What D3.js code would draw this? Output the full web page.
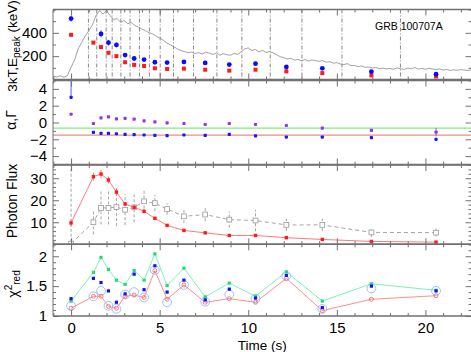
<!DOCTYPE html>
<html><head><meta charset="utf-8">
<script src="https://cdn.jsdelivr.net/npm/d3@7"></script>
<style>body{margin:0;background:#fff}text{font-family:"Liberation Sans",Arial,sans-serif}</style>
</head><body><svg id="c" width="471" height="352"></svg>
<script>
// ---- data ----
const times = [0, 1.26, 1.69, 2.11, 2.56, 3.05, 3.56, 4.12, 4.73, 5.42, 6.37, 7.57, 8.93, 10.41, 12.15, 14.18, 16.95, 20.6];
const binEdges = [0.98, 1.45, 1.98, 2.32, 2.81, 3.33, 3.86, 4.42, 5.03, 5.78, 6.91, 8.23, 9.64, 11.24, 13.03, 15.29, 18.59];
// panel 1 (keV)
const kT3 = [383, 316, 278, 229, 200, 148, 125, 116, 96, 90, 93, 84, 76, 84, 70, 55, 35, 26];
const ePeak = [522, null, 391, 316, 296, 209, 180, 171, 148, 145, 151, 142, 128, 136, 107, 96, 67, 46];
const ePeakErr = [26, 0, 30, 24, 20, 12, 10, 10, 8, 8, 8, 8, 8, 8, 8, 8, 8, 8];
// light curve (counts, arbitrary scale) from t=-1.0 s in 0.2 s bins
const lcStart = -1.0, lcStep = 0.2;
const lightCurve = [28, 22, 31, 19, 35,
  105, 168, 262, 318, 372, 418, 468, 545, 590, 562, 588, 548, 515, 521, 492,
  505, 478, 488, 462, 450, 432, 418, 401, 392, 372, 355, 338, 312, 298, 281,
  262, 248, 240, 229, 236, 222, 231, 218, 235, 226, 214, 228, 209, 221, 212,
  208, 224, 215, 238, 262, 271, 248, 258, 236, 250, 232, 240, 228, 212, 196,
  188, 176, 182, 166, 172, 160, 171, 158, 168, 162, 155, 162, 148, 153, 140,
  145, 132, 128, 136, 118, 121, 110, 116, 104, 108, 98, 104, 92, 97, 90,
  95, 88, 99, 92, 86, 98, 92, 102, 89, 95, 88, 96, 90, 84, 92,
  80, 86, 77, 83, 79, 85, 81, 78, 82];
// panel 2 (indices)
const alphaIdx = [0.98, -0.12, 0.55, 0.66, 0.43, 0.5, 0.39, 0.2, 0.08, -0.04, -0.12, -0.24, -0.12, -0.24, -0.36, -0.67, -0.94, -1.14];
const alphaErr = [0, 0, 0, 0, 0, 0, 0, 0, 0, 0, 0, 0, 0, 0, 0, 0, 0, 0.5];
const gammaIdx = [3.0, -1.18, -1.3, -1.3, -1.34, -1.42, -1.45, -1.49, -1.53, -1.57, -1.49, -1.53, -1.42, -1.6, -1.73, -1.73, -1.8, -2.0];
const gammaErrUp = [3, 0, 0, 0, 0, 0, 0, 0, 0, 0, 0, 0, 0, 0, 0, 0, 0, 0];
const refLines = [-2/3, -3/2];
// panel 3 (photon flux)
const fluxA = [9.7, 30.7, 31.9, 29.2, 23.7, 18.3, 16.8, 15.0, 11.8, 8.6, 6.3, 5.2, 4.0, 4.0, 3.0, 2.2, 1.3, 1.0];
const fluxAErr = [1.5, 1.8, 1.9, 1.6, 1.3, 1.0, 0.9, 0.8, 0.7, 0.6, 0.5, 0.4, 0.4, 0.4, 0.3, 0.3, 0.2, 0.2];
const fluxB = [0.3, 10.0, 16.5, 16.5, 16.9, 15.7, 16.8, 19.5, 18.7, 16.0, 12.7, 13.5, 11.2, 10.8, 8.8, 8.8, 5.4, 5.3];
const fluxBErr = [40, 5.5, 7.5, 7.5, 8.6, 7, 6.8, 5.6, 3.7, 2.6, 3, 3, 3.7, 4.9, 2.8, 2.8, 2.2, 1.8];
// panel 4 (reduced chi2)
const chiGreen = [1.25, 1.73, 1.98, 1.78, 1.6, 1.53, 1.76, 1.6, 2.04, 1.51, 1.8, 1.32, 1.55, 1.33, 1.74, 1.25, 1.54, 1.43];
const chiBlue = [1.29, 1.63, 1.56, 1.42, 1.23, 1.37, 1.7, 1.44, 1.84, 1.4, 1.6, 1.27, 1.45, 1.3, 1.68, 1.14, 1.5, 1.42];
const chiCyan = [1.17, 1.33, 1.42, 1.17, 1.12, 1.36, 1.4, 1.31, 1.77, 1.23, 1.52, 1.24, 1.36, 1.29, 1.67, 1.12, 1.46, 1.42];
const chiRed = [1.13, 1.33, 1.33, 1.16, 1.13, 1.33, 1.35, 1.31, 1.76, 1.28, 1.52, 1.23, 1.29, 1.23, 1.63, 1.09, 1.28, 1.34];
const xTickLabels = [0, 5, 10, 15, 20];

// ---- layout ----
const L = 53, R = 471.5;
const svg = d3.select("#c");
const x = d3.scaleLinear().domain([-1.02, 22.6]).range([L, R]);
const defs = svg.append("defs");
const axisCol = "#707070";

function range(a, b, s) { const r = []; for (let v = a; v <= b + 1e-9; v += s) r.push(+v.toFixed(6)); return r; }

function makePanel(id, top, bottom, domain, majors, minorStep, fmt) {
  const y = d3.scaleLinear().domain(domain).range([bottom, top]);
  defs.append("clipPath").attr("id", "cl" + id).append("rect")
    .attr("x", L).attr("y", top).attr("width", R - L).attr("height", bottom - top);
  const g = svg.append("g").attr("clip-path", `url(#cl${id})`);
  const ax = svg.append("g");
  const minors = range(domain[0], domain[1], minorStep).filter(v => !majors.includes(v));
  const style = s => { s.select(".domain").remove(); s.selectAll("line").attr("stroke", axisCol); };
  ax.append("g").attr("transform", `translate(${L},0)`).call(d3.axisLeft(y).tickValues(minors).tickSize(-3).tickFormat("")).call(style);
  ax.append("g").attr("transform", `translate(${L},0)`).call(d3.axisLeft(y).tickValues(majors).tickSize(-6).tickPadding(6).tickFormat(fmt))
    .call(style).call(s => s.selectAll("text").attr("font-size", 15).attr("fill", "#000"));
  ax.append("g").attr("transform", `translate(${R},0)`).call(d3.axisRight(y).tickValues(minors).tickSize(-3).tickFormat("")).call(style);
  ax.append("g").attr("transform", `translate(${R},0)`).call(d3.axisRight(y).tickValues(majors).tickSize(-6).tickFormat("")).call(style);
  const xmin = range(-1, 22, 1).filter(v => v % 5 !== 0), xmaj = [0, 5, 10, 15, 20];
  [[top, d3.axisTop], [bottom, d3.axisBottom]].forEach(([yy, A]) => {
    ax.append("g").attr("transform", `translate(0,${yy})`).call(A(x).tickValues(xmin).tickSize(-3).tickFormat("")).call(style);
    ax.append("g").attr("transform", `translate(0,${yy})`).call(A(x).tickValues(xmaj).tickSize(-6).tickFormat("")).call(style);
  });
  // frame
  ax.append("line").attr("x1", L).attr("x2", L).attr("y1", top).attr("y2", bottom).attr("stroke", axisCol).attr("stroke-width", 1);
  ax.append("line").attr("x1", R).attr("x2", R).attr("y1", top).attr("y2", bottom).attr("stroke", axisCol).attr("stroke-width", 1);
  [top, bottom].forEach(yy => ax.append("line").attr("x1", L).attr("x2", R + 1).attr("y1", yy).attr("y2", yy).attr("stroke", axisCol).attr("stroke-width", 1.6));
  return { y, g, top, bottom };
}

const p1 = makePanel(1, 9.5, 79.5, [0, 600], [200, 400], 100, d3.format("d"));
const p2 = makePanel(2, 80.5, 164.5, [-5, 5], [-4, -2, 0, 2, 4], 1, d => d < 0 ? "\u2212" + (-d) : d);
const p3 = makePanel(3, 165, 244.3, [0, 36], [10, 20, 30], 2, d3.format("d"));
const p4 = makePanel(4, 244.3, 316, [1, 2.2], [1, 1.5, 2], 0.1, d => d === 1 || d === 2 ? String(d) : d.toFixed(1));

// bottom x labels
svg.append("g").attr("transform", `translate(0,${p4.bottom})`)
  .call(d3.axisBottom(x).tickValues(xTickLabels).tickSize(0).tickPadding(6).tickFormat(d3.format("d")))
  .call(s => { s.select(".domain").remove(); s.selectAll("text").attr("font-size", 15).attr("fill", "#000"); });
svg.append("text").attr("x", (L + R) / 2).attr("y", 349.5).attr("text-anchor", "middle").attr("font-size", 13.5).text("Time (s)");

// ---- panel 1 ----
p1.g.selectAll(".edge").data(binEdges).join("line")
  .attr("x1", d => x(d)).attr("x2", d => x(d)).attr("y1", p1.top).attr("y2", p1.bottom)
  .attr("stroke", "#555").attr("stroke-width", 0.7).attr("stroke-dasharray", "4,2,1,2");
p1.g.append("path").datum(lightCurve)
  .attr("d", d3.line().x((d, i) => x(lcStart + i * lcStep)).y(d => p1.y(d)))
  .attr("fill", "none").attr("stroke", "#8a8a8a").attr("stroke-width", 0.8);
p1.g.selectAll(".eperr").data(times.map((t, i) => [t, ePeak[i], ePeakErr[i]]).filter(d => d[1] != null && d[2] > 0)).join("line")
  .attr("x1", d => x(d[0])).attr("x2", d => x(d[0])).attr("y1", d => p1.y(d[1] - d[2])).attr("y2", d => p1.y(d[1] + d[2]))
  .attr("stroke", "#1010ff").attr("stroke-width", 0.8);
p1.g.selectAll(".kt").data(times.map((t, i) => [t, kT3[i]])).join("rect")
  .attr("x", d => x(d[0]) - 2).attr("y", d => p1.y(d[1]) - 2).attr("width", 4).attr("height", 4).attr("fill", "#ff1a1a");
p1.g.selectAll(".ep").data(times.map((t, i) => [t, ePeak[i]]).filter(d => d[1] != null)).join("circle")
  .attr("cx", d => x(d[0])).attr("cy", d => p1.y(d[1])).attr("r", 2.4).attr("fill", "#0a0aff");
svg.append("text").attr("x", 375).attr("y", 30).attr("font-size", 10.5).text("GRB 100707A");

// ---- panel 2 ----
const refCols = ["#7cf07c", "#f08a8a"];
p2.g.selectAll(".ref").data(refLines).join("line")
  .attr("x1", L).attr("x2", R).attr("y1", d => p2.y(d)).attr("y2", d => p2.y(d))
  .attr("stroke", (d, i) => refCols[i]).attr("stroke-width", 1.2);
p2.g.selectAll(".ge").data(times.map((t, i) => [t, gammaIdx[i], gammaErrUp[i]]).filter(d => d[2] > 0)).join("line")
  .attr("x1", d => x(d[0])).attr("x2", d => x(d[0])).attr("y1", d => p2.y(d[1])).attr("y2", d => p2.y(d[1] + d[2]))
  .attr("stroke", "#3030ff").attr("stroke-width", 0.8);
p2.g.selectAll(".ae").data(times.map((t, i) => [t, alphaIdx[i], alphaErr[i]]).filter(d => d[2] > 0)).join("line")
  .attr("x1", d => x(d[0])).attr("x2", d => x(d[0])).attr("y1", d => p2.y(d[1] - d[2])).attr("y2", d => p2.y(d[1] + d[2]))
  .attr("stroke", "#9a30f0").attr("stroke-width", 0.8);
p2.g.selectAll(".al").data(times.map((t, i) => [t, alphaIdx[i]])).join("rect")
  .attr("x", d => x(d[0]) - 1.6).attr("y", d => p2.y(d[1]) - 1.6).attr("width", 3.2).attr("height", 3.2).attr("rx", 0.8).attr("fill", "#9a30f0");
p2.g.selectAll(".gm").data(times.map((t, i) => [t, gammaIdx[i]])).join("rect")
  .attr("x", d => x(d[0]) - 1.6).attr("y", d => p2.y(d[1]) - 1.6).attr("width", 3.2).attr("height", 3.2).attr("rx", 0.8).attr("fill", "#1818ff");

// ---- panel 3 ----
const fb = times.map((t, i) => [t, fluxB[i], fluxBErr[i]]);
const fa = times.map((t, i) => [t, fluxA[i], fluxAErr[i]]);
p3.g.selectAll(".fbe").data(fb).join("line")
  .attr("x1", d => x(d[0])).attr("x2", d => x(d[0])).attr("y1", d => p3.y(d[1] - d[2])).attr("y2", d => p3.y(d[1] + d[2]))
  .attr("stroke", "#9a9a9a").attr("stroke-width", 0.9).attr("stroke-dasharray", "3,2");
p3.g.append("path").datum(fb).attr("d", d3.line().x(d => x(d[0])).y(d => p3.y(d[1])))
  .attr("fill", "none").attr("stroke", "#9a9a9a").attr("stroke-width", 0.9).attr("stroke-dasharray", "4,3");
p3.g.selectAll(".fbm").data(fb).join("rect")
  .attr("x", d => x(d[0]) - 2.4).attr("y", d => p3.y(d[1]) - 2.4).attr("width", 4.8).attr("height", 4.8)
  .attr("fill", "#fff").attr("stroke", "#999").attr("stroke-width", 0.8);
p3.g.selectAll(".fae").data(fa).join("line")
  .attr("x1", d => x(d[0])).attr("x2", d => x(d[0])).attr("y1", d => p3.y(d[1] - d[2])).attr("y2", d => p3.y(d[1] + d[2]))
  .attr("stroke", "#ff5050").attr("stroke-width", 0.8);
p3.g.append("path").datum(fa).attr("d", d3.line().x(d => x(d[0])).y(d => p3.y(d[1])))
  .attr("fill", "none").attr("stroke", "#ff6a6a").attr("stroke-width", 0.9);
p3.g.selectAll(".fam").data(fa).join("rect")
  .attr("x", d => x(d[0]) - 1.7).attr("y", d => p3.y(d[1]) - 1.7).attr("width", 3.4).attr("height", 3.4).attr("fill", "#ff1a1a");

// ---- panel 4 ----
const cg = times.map((t, i) => [t, chiGreen[i]]);
const cr = times.map((t, i) => [t, chiRed[i]]);
p4.g.append("path").datum(cg).attr("d", d3.line().x(d => x(d[0])).y(d => p4.y(d[1])))
  .attr("fill", "none").attr("stroke", "#6ef0a8").attr("stroke-width", 0.9);
p4.g.append("path").datum(cr).attr("d", d3.line().x(d => x(d[0])).y(d => p4.y(d[1])))
  .attr("fill", "none").attr("stroke", "#ff8080").attr("stroke-width", 0.9);
p4.g.selectAll(".cc").data(times.map((t, i) => [t, chiCyan[i]])).join("circle")
  .attr("cx", d => x(d[0])).attr("cy", d => p4.y(d[1])).attr("r", 4.4)
  .attr("fill", "none").attr("stroke", "#8fbaff").attr("stroke-width", 0.9);
p4.g.selectAll(".crm").data(cr).join("circle")
  .attr("cx", d => x(d[0])).attr("cy", d => p4.y(d[1])).attr("r", 2)
  .attr("fill", "none").attr("stroke", "#ff6060").attr("stroke-width", 0.8);
p4.g.selectAll(".cgm").data(cg).join("rect")
  .attr("x", d => x(d[0]) - 1.6).attr("y", d => p4.y(d[1]) - 1.6).attr("width", 3.2).attr("height", 3.2).attr("fill", "#22dd77");
p4.g.selectAll(".cbm").data(times.map((t, i) => [t, chiBlue[i]])).join("rect")
  .attr("x", d => x(d[0]) - 1.6).attr("y", d => p4.y(d[1]) - 1.6).attr("width", 3.2).attr("height", 3.2).attr("fill", "#1010ff");

// ---- y titles ----
function yTitle(cx, cy, fs) { return svg.append("text").attr("transform", `translate(${cx},${cy}) rotate(-90)`).attr("text-anchor", "middle").attr("font-size", fs || 14); }
const t1 = yTitle(17, 46, 13.5);
t1.append("tspan").text("3kT,E");
t1.append("tspan").attr("font-size", 10).attr("dy", 3).text("peak");
t1.append("tspan").attr("dy", -3).text(" (keV)");
const t2 = yTitle(16, 120);
t2.append("tspan").text("\u03b1,\u0393");
yTitle(17, 201).text("Photon Flux");
const t4 = yTitle(18, 284);
t4.append("tspan").text("\u03c7");
t4.append("tspan").attr("font-size", 10).attr("dy", -6).text("2");
t4.append("tspan").attr("font-size", 10).attr("dy", 8).text("red");
</script></body></html>
